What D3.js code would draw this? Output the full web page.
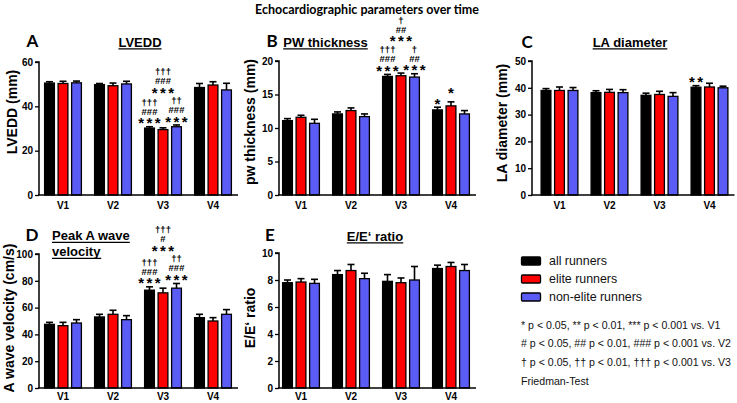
<!DOCTYPE html>
<html>
<head>
<meta charset="utf-8">
<script src="https://cdn.jsdelivr.net/npm/d3@7/dist/d3.min.js"></script>
<style>
  html, body { margin: 0; padding: 0; background: #fff; }
  svg { display: block; }
</style>
</head>
<body>
<svg id="chart" width="737" height="403"></svg>
<script>
// ---------------- DATA ----------------
const visits = ["V1", "V2", "V3", "V4"];
const seriesNames = ["all runners", "elite runners", "non-elite runners"];
const seriesColors = ["#000000", "#ff0000", "#5b5bf5"];

// values per visit: [all, elite, non-elite]
const lveddMean = [[50.5, 50.3, 50.6], [49.8, 49.3, 50.1], [30.2, 29.5, 30.8], [48.5, 49.6, 47.4]];
const lveddErr  = [[0.6, 1.0, 0.8], [0.5, 1.2, 1.2], [0.6, 0.8, 0.8], [1.8, 1.5, 3.0]];
const lveddTicks = [0, 20, 40, 60];
const lveddAnn = [
  { visit: "V3", series: 0, lines: ["***", "###", "†††"] },
  { visit: "V3", series: 2, lines: ["***", "###", "††"] },
  { visit: "V3", series: 1, lines: ["***", "###", "†††"] }
];

const pwMean = [[11.1, 11.6, 10.7], [12.1, 12.6, 11.7], [17.7, 17.8, 17.6], [12.7, 13.3, 12.1]];
const pwErr  = [[0.3, 0.3, 0.6], [0.3, 0.4, 0.4], [0.3, 0.4, 0.5], [0.4, 0.6, 0.5]];
const pwTicks = [0, 5, 10, 15, 20];
const pwAnn = [
  { visit: "V3", series: 0, lines: ["***", "###", "†††"] },
  { visit: "V3", series: 2, lines: ["***", "##", "†"] },
  { visit: "V3", series: 1, lines: ["***", "##", "†"] },
  { visit: "V4", series: 0, lines: ["*"] },
  { visit: "V4", series: 1, lines: ["*"] }
];

const laMean = [[39.0, 39.0, 39.0], [38.2, 38.3, 38.2], [37.2, 37.5, 36.8], [40.2, 40.3, 40.0]];
const laErr  = [[0.7, 1.3, 1.1], [0.7, 1.1, 1.1], [0.8, 1.2, 1.4], [0.6, 1.4, 0.6]];
const laTicks = [0, 10, 20, 30, 40, 50];
const laAnn = [
  { visit: "V4", series: 0, lines: ["**"] }
];

const awaveMean = [[47.5, 46.5, 48.5], [53.0, 55.0, 51.0], [73.0, 71.0, 74.5], [52.5, 50.0, 55.0]];
const awaveErr  = [[1.5, 2.5, 2.5], [2.0, 3.0, 3.0], [2.5, 3.5, 3.5], [2.5, 2.5, 3.5]];
const awaveTicks = [0, 20, 40, 60, 80, 100];
const awaveAnn = [
  { visit: "V3", series: 0, lines: ["***", "###", "†††"] },
  { visit: "V3", series: 2, lines: ["***", "###", "††"] },
  { visit: "V3", series: 1, lines: ["***", "#", "†††"] }
];

const eeMean = [[7.8, 7.85, 7.75], [8.4, 8.7, 8.1], [7.9, 7.8, 8.0], [8.85, 9.0, 8.7]];
const eeErr  = [[0.2, 0.25, 0.3], [0.3, 0.45, 0.4], [0.5, 0.35, 1.0], [0.25, 0.3, 0.45]];
const eeTicks = [0, 2, 4, 6, 8, 10];
const eeAnn = [];

const chartTitle = "Echocardiographic parameters over time";
const footnotes = [
  "* p < 0.05, ** p < 0.01, *** p < 0.001 vs. V1",
  "# p < 0.05, ## p < 0.01, ### p < 0.001 vs. V2",
  "† p < 0.05, †† p < 0.01, ††† p < 0.001 vs. V3",
  "Friedman-Test"
];

// ---------------- LAYOUT ----------------
const panels = [
  { letter: "A", title: ["LVEDD"], ylabel: "LVEDD (mm)", mean: lveddMean, err: lveddErr, ticks: lveddTicks, ann: lveddAnn,
    axisX: 39, bandX: 38, yBottom: 195, yTop: 62, xPad: 7, letterX: 32.5, letterY: 47, titleX: 140, titleAnchor: "middle", titleY: 46.5, ylabX: 17, ylabY: 112 },
  { letter: "B", title: ["PW thickness"], ylabel: "pw thickness (mm)", mean: pwMean, err: pwErr, ticks: pwTicks, ann: pwAnn,
    axisX: 279, bandX: 276, yBottom: 195, yTop: 61, xPad: 7, letterX: 272, letterY: 47, titleX: 325.5, titleAnchor: "middle", titleY: 46.5, ylabX: 255, ylabY: 122 },
  { letter: "C", title: ["LA diameter"], ylabel: "LA diameter (mm)", mean: laMean, err: laErr, ticks: laTicks, ann: laAnn,
    axisX: 532, bandX: 534.5, yBottom: 195, yTop: 61, xPad: 7, letterX: 527, letterY: 48, titleX: 630, titleAnchor: "middle", titleY: 46.5, ylabX: 507, ylabY: 123 },
  { letter: "D", title: ["Peak A wave", "velocity"], ylabel: "A wave velocity (cm/s)", mean: awaveMean, err: awaveErr, ticks: awaveTicks, ann: awaveAnn,
    axisX: 39, bandX: 38, yBottom: 388, yTop: 254, xPad: 4.5, letterX: 32, letterY: 241, titleX: 52, titleAnchor: "start", titleY: 240, ylabX: 14, ylabY: 318 },
  { letter: "E", title: ["E/E‘ ratio"], ylabel: "E/E‘ ratio", mean: eeMean, err: eeErr, ticks: eeTicks, ann: eeAnn,
    axisX: 279, bandX: 276, yBottom: 388, yTop: 253, xPad: 4.5, letterX: 270, letterY: 241, titleX: 375, titleAnchor: "middle", titleY: 240.5, ylabX: 255, ylabY: 318 }
];

const ARIAL = "'Liberation Sans', Arial, Helvetica, sans-serif";
const CALIBRI = "Lato, 'Open Sans', sans-serif";

const svg = d3.select("#chart");

svg.append("text")
  .attr("x", 367).attr("y", 14)
  .attr("text-anchor", "middle")
  .attr("font-family", CALIBRI).attr("font-weight", "bold").attr("font-size", 12.5)
  .text(chartTitle);

panels.forEach(p => {
  const g = svg.append("g");
  const ymax = p.ticks[p.ticks.length - 1];
  const y = d3.scaleLinear().domain([0, ymax]).range([p.yBottom, p.yTop]);
  const x = d3.scaleBand().domain(visits).range([p.bandX, p.bandX + 200]).paddingInner(0).paddingOuter(0);
  const xs = d3.scaleBand().domain([0, 1, 2]).range([-18.4, 18.4]).paddingInner(0.274).paddingOuter(0);

  const rows = [];
  visits.forEach((v, i) => {
    p.mean[i].forEach((m, s) => rows.push({ v, s, m, e: p.err[i][s] }));
  });
  const cx = d => x(d.v) + x.bandwidth() / 2 + xs(d.s) + xs.bandwidth() / 2;

  // error bars (drawn first, bar covers lower part)
  g.selectAll("line.err").data(rows).enter().append("line")
    .attr("x1", cx).attr("x2", cx)
    .attr("y1", d => y(d.m)).attr("y2", d => y(d.m + d.e))
    .attr("stroke", "#000").attr("stroke-width", 1.6);
  g.selectAll("line.cap").data(rows).enter().append("line")
    .attr("x1", d => cx(d) - 3.5).attr("x2", d => cx(d) + 3.5)
    .attr("y1", d => y(d.m + d.e)).attr("y2", d => y(d.m + d.e))
    .attr("stroke", "#000").attr("stroke-width", 1.6);

  g.selectAll("rect.bar").data(rows).enter().append("rect")
    .attr("x", d => x(d.v) + x.bandwidth() / 2 + xs(d.s))
    .attr("width", xs.bandwidth())
    .attr("y", d => y(d.m))
    .attr("height", d => y(0) - y(d.m))
    .attr("fill", d => seriesColors[d.s])
    .attr("stroke", "#000").attr("stroke-width", 1.3);

  // y axis
  const yAxis = d3.axisLeft(y).tickValues(p.ticks).tickSize(4).tickPadding(2).tickFormat(d3.format("d"));
  const ga = g.append("g").attr("transform", `translate(${p.axisX},0)`).call(yAxis);
  ga.select(".domain").attr("stroke-width", 1.5).attr("d", `M-4,${y(ymax)}H0V${y(0)}`);
  ga.selectAll(".tick line").attr("stroke-width", 1.3);
  ga.selectAll(".tick text").attr("font-family", ARIAL).attr("font-weight", "bold").attr("font-size", 10).attr("fill", "#000");

  // x axis
  const xAxis = d3.axisBottom(x).tickSize(0).tickPadding(p.xPad);
  const gx = g.append("g").attr("transform", `translate(0,${p.yBottom})`).call(xAxis);
  gx.select(".domain").attr("stroke-width", 1.5).attr("d", `M${p.axisX - 0.75},0H${p.bandX + 200}`);
  gx.selectAll(".tick text").attr("font-family", ARIAL).attr("font-weight", "bold").attr("font-size", 10).attr("fill", "#000");

  // y label
  g.append("text")
    .attr("transform", `translate(${p.ylabX},${p.ylabY}) rotate(-90)`)
    .attr("text-anchor", "middle")
    .attr("font-family", ARIAL).attr("font-weight", "bold").attr("font-size", 14)
    .text(p.ylabel);

  // panel letter
  g.append("text")
    .attr("x", p.letterX).attr("y", p.letterY)
    .attr("text-anchor", "middle")
    .attr("font-family", CALIBRI).attr("font-weight", "bold").attr("font-size", 17)
    .text(p.letter);

  // panel title with underline
  p.title.forEach((t, i) => {
    const ty = p.titleY + i * 16;
    const tt = g.append("text")
      .attr("x", p.titleX).attr("y", ty)
      .attr("text-anchor", p.titleAnchor)
      .attr("font-family", ARIAL).attr("font-weight", "bold").attr("font-size", 13)
      .text(t);
    const bb = tt.node().getBBox();
    g.append("line")
      .attr("x1", bb.x).attr("x2", bb.x + bb.width)
      .attr("y1", ty + 2.3).attr("y2", ty + 2.3)
      .attr("stroke", "#000").attr("stroke-width", 1.2);
  });

  // significance annotations
  const stackTop = {};
  p.ann.forEach(a => {
    const i = visits.indexOf(a.visit);
    const d = { v: a.visit, s: a.series, m: p.mean[i][a.series], e: p.err[i][a.series] };
    let base = y(d.m + d.e) - 6;
    [a.series - 1, a.series + 1].forEach(n => {
      const k = a.visit + "-" + n;
      if (stackTop[k] !== undefined) base = Math.min(base, stackTop[k] - 10.5);
    });
    let c = base;
    a.lines.forEach((ln, j) => {
      const isStar = ln[0] === "*";
      if (j > 0) c -= (j === 1 ? 9.5 : 9);
      const fs = isStar ? 15 : 9.5;
      const bl = isStar ? c + 7.6 : c + 3.4;
      g.append("text")
        .attr("x", cx(d) + (isStar ? 1.2 : 0)).attr("y", bl)
        .attr("text-anchor", "middle")
        .attr("font-family", ARIAL).attr("font-weight", "bold").attr("font-size", fs)
        .attr("letter-spacing", isStar ? 2.4 : 0)
        .text(ln);
    });
    stackTop[a.visit + "-" + a.series] = c;
  });
});

// legend
const lg = svg.append("g");
seriesNames.forEach((n, i) => {
  const cy = 261 + i * 18;
  lg.append("rect").attr("x", 521.5).attr("y", cy - 4).attr("width", 19).attr("height", 8).attr("rx", 1)
    .attr("fill", seriesColors[i]).attr("stroke", "#000").attr("stroke-width", 1.3);
  lg.append("text").attr("x", 549).attr("y", cy + 4.3)
    .attr("font-family", ARIAL).attr("font-size", 12.4).attr("fill", "#111").text(n);
});
footnotes.forEach((f, i) => {
  lg.append("text").attr("x", 521).attr("y", 328.5 + i * 18.8)
    .attr("font-family", ARIAL).attr("font-size", 10.6).attr("fill", "#111").text(f);
});
</script>
</body>
</html>
